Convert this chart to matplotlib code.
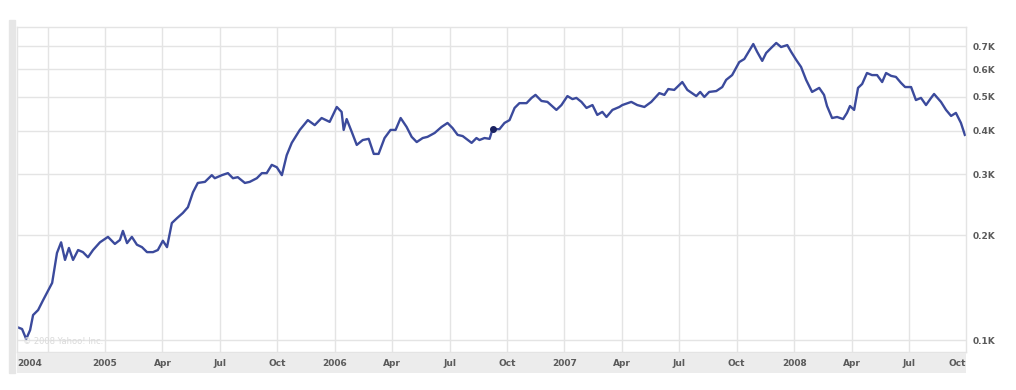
import pandas as pd
import matplotlib
matplotlib.use("Agg")
import matplotlib.pyplot as plt
from matplotlib.patches import Rectangle

# weekly-ish closing prices (time as decimal year, price in $)
years = [2004.617, 2004.639, 2004.657, 2004.674, 2004.687, 2004.709, 2004.730, 2004.748,
         2004.770, 2004.791, 2004.809, 2004.826, 2004.843, 2004.861, 2004.883, 2004.904,
         2004.926, 2004.948, 2004.978, 2005.013, 2005.043, 2005.065, 2005.078, 2005.096,
         2005.117, 2005.139, 2005.161, 2005.183, 2005.209, 2005.230, 2005.252, 2005.270,
         2005.291, 2005.313, 2005.339, 2005.361, 2005.383, 2005.404, 2005.435, 2005.465,
         2005.478, 2005.509, 2005.535, 2005.557, 2005.578, 2005.609, 2005.630, 2005.661,
         2005.683, 2005.704, 2005.726, 2005.748, 2005.770, 2005.791, 2005.813, 2005.848,
         2005.883, 2005.913, 2005.943, 2005.978, 2006.009, 2006.030, 2006.039, 2006.052,
         2006.074, 2006.096, 2006.122, 2006.148, 2006.170, 2006.191, 2006.217, 2006.243,
         2006.265, 2006.287, 2006.313, 2006.335, 2006.357, 2006.383, 2006.404, 2006.435,
         2006.465, 2006.491, 2006.513, 2006.535, 2006.557, 2006.596, 2006.617, 2006.630,
         2006.652, 2006.674, 2006.687, 2006.717, 2006.739, 2006.761, 2006.783, 2006.804,
         2006.835, 2006.857, 2006.874, 2006.900, 2006.926, 2006.965, 2006.987, 2007.013,
         2007.035, 2007.052, 2007.074, 2007.096, 2007.122, 2007.143, 2007.165, 2007.183,
         2007.209, 2007.239, 2007.252, 2007.291, 2007.317, 2007.348, 2007.378, 2007.413,
         2007.435, 2007.452, 2007.478, 2007.513, 2007.535, 2007.574, 2007.591, 2007.609,
         2007.630, 2007.661, 2007.687, 2007.704, 2007.730, 2007.761, 2007.783, 2007.822,
         2007.839, 2007.861, 2007.878, 2007.900, 2007.922, 2007.943, 2007.970, 2007.987,
         2008.009, 2008.030, 2008.052, 2008.078, 2008.109, 2008.130, 2008.143, 2008.165,
         2008.187, 2008.213, 2008.230, 2008.243, 2008.261, 2008.278, 2008.296, 2008.317,
         2008.339, 2008.361, 2008.383, 2008.400, 2008.422, 2008.443, 2008.465, 2008.483,
         2008.509, 2008.530, 2008.552, 2008.574, 2008.596, 2008.609, 2008.639, 2008.661,
         2008.683, 2008.704, 2008.726, 2008.743]

prices = [109, 107.6, 100.7, 106.8, 118, 122, 130, 137,
          146, 178, 191, 170, 184, 170, 181.5, 179,
          173, 181.5, 191, 198, 189, 194, 206, 190,
          198, 188, 185, 179, 179, 181.5, 193, 185,
          217, 224, 232, 241, 266, 283, 285, 298,
          292, 298, 302, 292, 294, 283, 285, 292,
          302, 302, 319, 314, 298, 340, 369, 402,
          429, 415, 435, 424, 468, 453, 402, 432,
          397, 364, 376, 379, 343, 343, 381, 402,
          402, 435, 410, 384, 371, 381, 384, 394,
          410, 421, 407, 389, 386, 369, 381, 376,
          381, 379, 404, 404, 421, 429, 465, 480,
          480, 497, 507, 487, 484, 459, 474, 503,
          493, 497, 484, 465, 474, 444, 453, 438,
          459, 468, 474, 484, 474, 468, 484, 513,
          507, 527, 524, 552, 524, 503, 517, 500,
          517, 520, 534, 560, 578, 630, 643, 710,
          674, 635, 669, 692, 715, 696, 705, 674,
          639, 610, 560, 517, 531, 507, 471, 435,
          438, 432, 450, 471, 459, 531, 545, 586,
          578, 578, 552, 586, 575, 571, 549, 534,
          534, 490, 497, 474, 497, 510, 484, 459,
          441, 450, 421, 389]

# event marker on the line
event_year = 2006.687
event_price = 404

tick_years = [2004.617, 2005.0, 2005.25, 2005.5, 2005.75, 2006.0, 2006.25, 2006.5,
              2006.75, 2007.0, 2007.25, 2007.5, 2007.75, 2008.0, 2008.25, 2008.5, 2008.748]
tick_labels = ['2004', '2005', 'Apr', 'Jul', 'Oct', '2006', 'Apr', 'Jul',
               'Oct', '2007', 'Apr', 'Jul', 'Oct', '2008', 'Apr', 'Jul', 'Oct']
grid_years = [2004.75, 2005.0, 2005.25, 2005.5, 2005.75, 2006.0, 2006.25, 2006.5,
              2006.75, 2007.0, 2007.25, 2007.5, 2007.75, 2008.0, 2008.25, 2008.5]
y_ticks = [100, 200, 300, 400, 500, 600, 700]
y_labels = ['0.1K', '0.2K', '0.3K', '0.4K', '0.5K', '0.6K', '0.7K']

grid_col = '#e4e4e4'
text_col = '#5a5a5a'
line_col = '#3b4a9c'

fig = plt.figure(figsize=(10.16, 3.9), dpi=100)
ax = fig.add_axes([17/1016, 1 - 352/390, 949/1016, 325/390])

ax.plot(years, prices, color=line_col, lw=1.7, solid_joinstyle='round')
ax.plot([event_year], [event_price], 'o', color='#1a2260', ms=4)

ax.set_yscale('log')
ax.set_xlim(2004.617, 2008.748)
ax.set_ylim(92.4, 794.7)
ax.set_yticks(y_ticks)
ax.set_yticklabels(y_labels)
ax.yaxis.set_minor_locator(matplotlib.ticker.NullLocator())
ax.yaxis.tick_right()
ax.tick_params(axis='y', length=0, pad=5, labelsize=6.5, labelcolor=text_col)
for lab in ax.get_yticklabels():
    lab.set_fontweight('bold')

ax.set_xticks(grid_years)
ax.tick_params(axis='x', length=0, labelbottom=False)
ax.grid(True, color=grid_col, lw=1)
for s in ax.spines.values():
    s.set_color(grid_col)
    s.set_linewidth(1)

ax.text(0.006, 0.02, '\u00a9 2008 Yahoo! Inc.', transform=ax.transAxes,
        fontsize=6, color='#dadada', ha='left', va='bottom')

# grey band holding the date labels
band = fig.add_axes([17/1016, 1 - 373/390, 949/1016, 20/390])
band.set_facecolor('#ececec')
band.set_xlim(ax.get_xlim())
band.set_ylim(0, 1)
band.set_xticks([])
band.set_yticks([])
for s in band.spines.values():
    s.set_visible(False)
for i, (t, lab) in enumerate(zip(tick_years, tick_labels)):
    ha = 'center'
    if i == 0:
        ha = 'left'
    elif i == len(tick_years) - 1:
        ha = 'right'
    band.text(t, 0.45, lab, ha=ha, va='center', fontsize=6.5,
              fontweight='bold', color=text_col)

# thin grey bar on the far left
fig.patches.append(Rectangle((9/1016, 1 - 373/390), 6/1016, 353/390,
                             transform=fig.transFigure, color='#e6e6e6', zorder=0))

fig.savefig('out.png', dpi=100, facecolor='white')
